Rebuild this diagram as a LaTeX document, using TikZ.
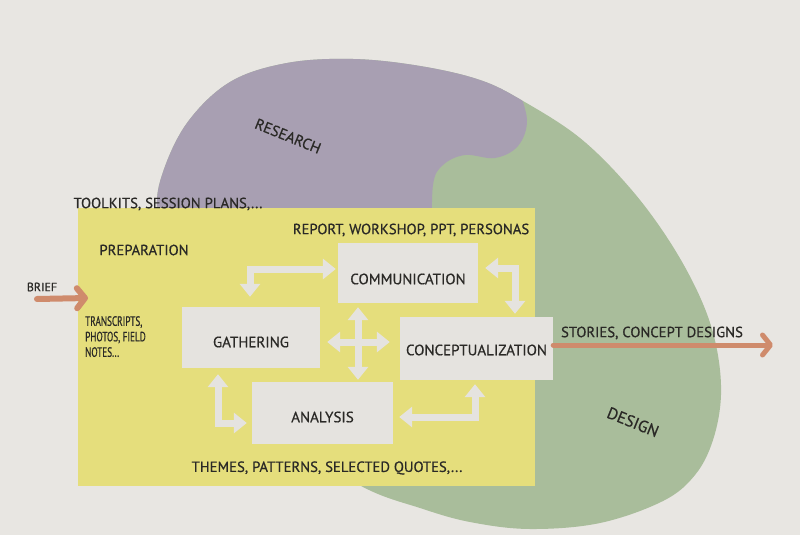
\documentclass[tikz,border=0pt]{standalone}
\usepackage{fontspec}
\setmainfont{PT Sans}[FakeBold=0.6]
\usetikzlibrary{arrows.meta,calc}

\definecolor{paper}{HTML}{E8E6E2}
\definecolor{research}{HTML}{A89FB2}
\definecolor{design}{HTML}{A9BD9B}
\definecolor{prepyellow}{HTML}{E5DE7C}
\definecolor{boxfill}{HTML}{E5E3DF}
\definecolor{feedline}{HTML}{CF8B6C}
\definecolor{ink}{HTML}{2A2926}

\tikzset{
  box/.style={fill=boxfill, draw=none, inner sep=0pt, text=ink,
              text depth=0pt, font=\fontsize{15}{17}\selectfont},
  flow/.style={draw=boxfill, line width=7pt,
               {Triangle[width=20pt,length=13pt]}-{Triangle[width=20pt,length=13pt]}},
  feed/.style={draw=feedline, line width=6pt, line cap=round,
               -{Straight Barb[length=8pt,width=20pt,line cap=round,line join=round]}},
  note/.style={text=ink, inner sep=0pt, font=\fontsize{14.7}{17}\selectfont},
  zone/.style={text=ink, inner sep=0pt, rotate=-22},
}

\begin{document}
\begin{tikzpicture}[x=1pt,y=-1pt]
  \fill[paper] (0,0) rectangle (800,535);
  \useasboundingbox (0,0) rectangle (800,535);

  % outline of the research/design blob
  \def\blob{plot[smooth cycle, tension=0.6] coordinates {
    (157,215) (162,175) (187,123) (230,82) (287,63) (353,59) (420,66)
    (480,80) (523,101) (580,138) (630,188) (670,242) (700,297) (716,345)
    (721,395) (713,440) (695,475) (663,501) (600,523) (530,529) (470,522)
    (420,508) (363,487) (290,440) (210,360) (165,280)}}

  \fill[design] \blob;
  \begin{scope}
    \clip \blob;
    \fill[research] (100,240) -- (100,20) -- (515,20)
      -- plot[smooth, tension=0.6] coordinates {
        (517,85) (527,120) (518,146) (495,158) (465,155) (443,165)
        (433,185) (432,240)} -- cycle;
  \end{scope}

  \node[zone, font=\fontsize{15.2}{17}\selectfont] (research) at (288,136) {RESEARCH};
  \node[zone, font=\fontsize{16.4}{18}\selectfont] (design) at (633,422) {DESIGN};

  % preparation area
  \node[fill=prepyellow, minimum width=457pt, minimum height=278pt,
        inner sep=0pt] (prep) at (306.5,347) {};

  % activity boxes (text height sets where the label sits in its box)
  \node[box, text height=22.5pt, minimum width=140pt, minimum height=60pt] (comm) at (408,273) {COMMUNICATION};
  \node[box, text height=19.5pt, minimum width=138pt, minimum height=61pt] (gath) at (251,337.5) {GATHERING};
  \node[box, text height=13.5pt, minimum width=153pt, minimum height=63pt] (concept) at (476.5,348.5) {CONCEPTUALIZATION};
  \node[box, text height=18.5pt, minimum width=141pt, minimum height=62pt] (anal) at (322.5,413) {ANALYSIS};

  % connectors between the activities
  \coordinate (hub) at (358,342);
  \draw[flow] ($(hub |- comm.south)+(0,4)$) -- ($(hub |- anal.north)+(0,-2)$);
  \draw[flow] ($(hub -| gath.east)+(7,0)$) -- ($(hub -| concept.west)+(-10,0)$);

  \coordinate (cA) at (250,269);
  \draw[flow] ($(cA |- gath.north)+(0,-10)$) -- (cA) -- ($(cA -| comm.west)+(-2,0)$);
  \coordinate (cB) at (515,268);
  \draw[flow] ($(cB -| comm.east)+(7,0)$) -- (cB) -- ($(cB |- concept.north)+(0,-3)$);
  \coordinate (cD) at (218,423);
  \draw[flow] ($(cD |- gath.south)+(0,6)$) -- (cD) -- ($(cD -| anal.west)+(-5,0)$);
  \coordinate (cE) at (475,417);
  \draw[flow] ($(cE -| anal.east)+(6,0)$) -- (cE) -- ($(cE |- concept.south)+(0,4)$);

  % input and output
  \coordinate (briefStart) at (37,299);
  \coordinate (briefTip) at (88,298);
  \draw[feed] (briefStart) -- (briefTip);
  \coordinate (outTip) at (773,345);
  \draw[feed, line width=5pt] (concept.east |- outTip) -- (outTip);

  % annotations
  \node[note, font=\fontsize{12}{14}\selectfont] (brief) at (42,287) {BRIEF};
  \node[note] (toolkits) at (168,204) {TOOLKITS, SESSION PLANS,...};
  \node[note] (preparation) at (144,250) {PREPARATION};
  \node[note] (report) at (411,230) {REPORT, WORKSHOP, PPT, PERSONAS};
  \node[note, align=left, anchor=north west,
        font=\fontsize{13.5}{15.5}\selectfont\addfontfeature{FakeStretch=0.68}]
    (transcripts) at (85,316) {TRANSCRIPTS,\\PHOTOS, FIELD\\NOTES...};
  \node[note] (themes) at (327,468) {THEMES, PATTERNS, SELECTED QUOTES,...};
  \node[note] (stories) at (652,333) {STORIES, CONCEPT DESIGNS};
\end{tikzpicture}
\end{document}
